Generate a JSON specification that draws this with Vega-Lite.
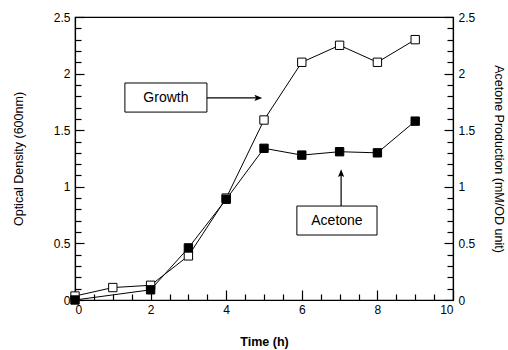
{
  "$schema": "https://vega.github.io/schema/vega-lite/v6.json",
  "width": 378,
  "height": 283,
  "autosize": {"type": "none"},
  "padding": {"left": 75, "top": 17, "right": 55, "bottom": 50},
  "background": "white",
  "config": {
    "view": {"stroke": "black", "strokeWidth": 1.2},
    "font": "Liberation Sans",
    "axis": {
      "grid": false,
      "domainColor": "black",
      "domainWidth": 1.2,
      "tickColor": "black",
      "tickWidth": 1.2,
      "labelColor": "black",
      "titleColor": "black",
      "labelFont": "Liberation Sans",
      "titleFont": "Liberation Sans",
      "labelFontSize": 12,
      "titleFontSize": 12.5,
      "titleFontWeight": "normal",
      "labelOverlap": false
    }
  },
  "datasets": {
    "series": [
      {"time": 0, "value": 0.035, "series": "Growth"},
      {"time": 1, "value": 0.11, "series": "Growth"},
      {"time": 2, "value": 0.13, "series": "Growth"},
      {"time": 3, "value": 0.39, "series": "Growth"},
      {"time": 4, "value": 0.9, "series": "Growth"},
      {"time": 5, "value": 1.59, "series": "Growth"},
      {"time": 6, "value": 2.1, "series": "Growth"},
      {"time": 7, "value": 2.25, "series": "Growth"},
      {"time": 8, "value": 2.1, "series": "Growth"},
      {"time": 9, "value": 2.3, "series": "Growth"},
      {"time": 0, "value": 0.0, "series": "Acetone"},
      {"time": 2, "value": 0.09, "series": "Acetone"},
      {"time": 3, "value": 0.46, "series": "Acetone"},
      {"time": 4, "value": 0.89, "series": "Acetone"},
      {"time": 5, "value": 1.34, "series": "Acetone"},
      {"time": 6, "value": 1.28, "series": "Acetone"},
      {"time": 7, "value": 1.31, "series": "Acetone"},
      {"time": 8, "value": 1.3, "series": "Acetone"},
      {"time": 9, "value": 1.58, "series": "Acetone"}
    ],
    "boxes": [
      {"label": "Growth", "time": 1.32, "time2": 3.49, "value": 1.66, "value2": 1.917},
      {"label": "Acetone", "time": 5.87, "time2": 7.99, "value": 0.574, "value2": 0.83}
    ],
    "boxtext": [
      {"label": "Growth", "time": 2.405, "value": 1.788},
      {"label": "Acetone", "time": 6.93, "value": 0.702}
    ],
    "arrowlines": [
      {"label": "Growth", "time": 3.49, "value": 1.785, "time2": 4.85, "value2": 1.785},
      {"label": "Acetone", "time": 7.04, "value": 0.83, "time2": 7.04, "value2": 1.12}
    ],
    "arrowright": [
      {"label": "Growth", "time": 4.85, "value": 1.785}
    ],
    "arrowup": [
      {"label": "Acetone", "time": 7.04, "value": 1.12}
    ]
  },
  "encoding": {
    "x": {
      "field": "time", "type": "quantitative",
      "scale": {"domain": [0, 10], "nice": false, "zero": false},
      "axis": {
        "title": "Time (h)",
        "titleFontWeight": "bold",
        "values": [0,0.5,1,1.5,2,2.5,3,3.5,4,4.5,5,5.5,6,6.5,7,7.5,8,8.5,9,9.5,10],
        "format": "~g",
        "labelExpr": "datum.value % 2 === 0 ? datum.label : ''",
        "tickSize": {"condition": {"test": "datum.value % 2 === 0", "value": -10}, "value": -6},
        "labelPadding": 14,
        "titlePadding": 16
      }
    }
  },
  "resolve": {"scale": {"y": "independent"}, "axis": {"y": "independent"}},
  "layer": [
    {
      "encoding": {
        "y": {
          "field": "value", "type": "quantitative",
          "scale": {"domain": [0, 2.5], "nice": false},
          "axis": {
            "orient": "left",
            "title": "Optical Density (600nm)",
            "values": [0,0.1,0.2,0.3,0.4,0.5,0.6,0.7,0.8,0.9,1,1.1,1.2,1.3,1.4,1.5,1.6,1.7,1.8,1.9,2,2.1,2.2,2.3,2.4,2.5],
            "format": ".1~f",
            "labelExpr": "abs(datum.value*2 - round(datum.value*2)) < 0.001 ? datum.label : ''",
            "tickSize": {"condition": {"test": "abs(datum.value*2 - round(datum.value*2)) < 0.001", "value": -9}, "value": -6},
            "labelPadding": 14,
            "titlePadding": 28
          }
        }
      },
      "layer": [
        {
          "data": {"name": "series"},
          "mark": {"type": "line", "color": "black", "strokeWidth": 1},
          "encoding": {"detail": {"field": "series"}}
        },
        {
          "data": {"name": "series"},
          "mark": {"type": "point", "shape": "square", "size": 70, "strokeWidth": 1, "opacity": 1, "stroke": "black"},
          "encoding": {
            "fill": {
              "field": "series", "type": "nominal",
              "scale": {"domain": ["Growth", "Acetone"], "range": ["white", "black"]},
              "legend": null
            }
          }
        },
        {
          "data": {"name": "boxes"},
          "mark": {"type": "rect", "fill": "white", "stroke": "black", "strokeWidth": 1},
          "encoding": {
            "x2": {"field": "time2"},
            "y2": {"field": "value2"}
          }
        },
        {
          "data": {"name": "boxtext"},
          "mark": {"type": "text", "fontSize": 14, "color": "black", "font": "Liberation Sans"},
          "encoding": {"text": {"field": "label"}}
        },
        {
          "data": {"name": "arrowlines"},
          "mark": {"type": "rule", "color": "black", "strokeWidth": 1.2},
          "encoding": {
            "x2": {"field": "time2"},
            "y2": {"field": "value2"}
          }
        },
        {
          "data": {"name": "arrowright"},
          "mark": {"type": "point", "shape": "M-1,-0.8L1,0L-1,0.8L-0.6,0Z", "size": 60, "filled": true, "color": "black", "opacity": 1},
          "encoding": {}
        },
        {
          "data": {"name": "arrowup"},
          "mark": {"type": "point", "shape": "M-0.8,1L0,-1L0.8,1L0,0.6Z", "size": 60, "filled": true, "color": "black", "opacity": 1},
          "encoding": {}
        }
      ]
    },
    {
      "data": {"name": "series"},
      "mark": {"type": "point", "opacity": 0},
      "encoding": {
        "y": {
          "field": "value", "type": "quantitative",
          "scale": {"domain": [0, 2.5], "nice": false},
          "axis": {
            "orient": "right",
            "title": "Acetone Production (mM/OD unit)",
            "values": [0,0.1,0.2,0.3,0.4,0.5,0.6,0.7,0.8,0.9,1,1.1,1.2,1.3,1.4,1.5,1.6,1.7,1.8,1.9,2,2.1,2.2,2.3,2.4,2.5],
            "format": ".1~f",
            "labelExpr": "abs(datum.value*2 - round(datum.value*2)) < 0.001 ? datum.label : ''",
            "tickSize": {"condition": {"test": "abs(datum.value*2 - round(datum.value*2)) < 0.001", "value": -9}, "value": -6},
            "labelPadding": 14,
            "titlePadding": 17
          }
        }
      }
    }
  ]
}
